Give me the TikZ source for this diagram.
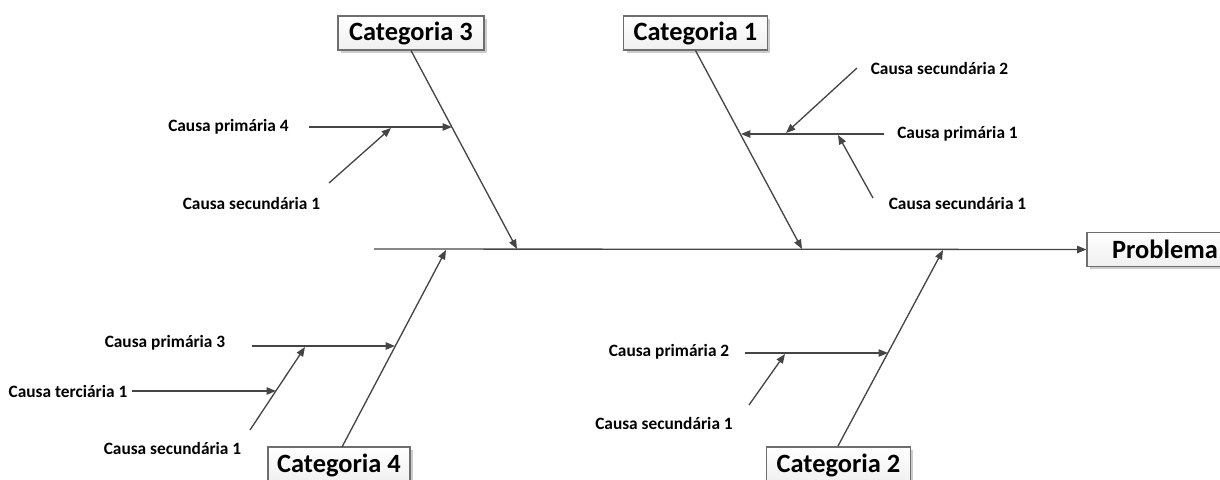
\documentclass[tikz,border=0pt]{standalone}
\usepackage{fontspec}
\setmainfont{Carlito}
\usetikzlibrary{arrows.meta,shadows}
\definecolor{linegray}{HTML}{454545}
\definecolor{boxgray}{HTML}{6E6E6E}
\begin{document}
\begin{tikzpicture}[x=0.75pt,y=-0.75pt,
  line/.style={draw=linegray, line width=1pt},
  arr/.style={line, -{Triangle[length=7pt,width=5.5pt]}},
  catbox/.style={draw=boxgray, line width=0.8pt, top color=white, bottom color=gray!12,
    drop shadow={shadow xshift=2pt, shadow yshift=-2pt, opacity=0.4},
    font=\bfseries\fontsize{19.8}{22}\selectfont, inner sep=0pt, minimum height=25.5pt},
  lab/.style={font=\bfseries\fontsize{13}{15}\selectfont, inner sep=0pt, text=black}]
\useasboundingbox (0,0) rectangle (1220,479);
\begin{scope}
\clip (0,0) rectangle (1220,479);
% boxes
\node[catbox, minimum width=109.5pt] (cat3) at (411,33) {Categoria 3};
\node[catbox, minimum width=107.5pt] (cat1) at (695.5,33) {Categoria 1};
\node[catbox, minimum width=106.5pt, minimum height=27pt] (cat4) at (339,465) {Categoria 4};
\node[catbox, minimum width=107.5pt, minimum height=27pt] (cat2) at (838.5,465) {Categoria 2};
\node[catbox, minimum width=117pt, minimum height=25pt] (prob) at (1165,249.5) {Problema};

% labels
\node[lab] (lp4) at (228.5,127) {Causa primária 4};
\node[lab] (ls31) at (251.5,203) {Causa secundária 1};
\node[lab] (ls12) at (939.5,68) {Causa secundária 2};
\node[lab] (lp1) at (957.5,134) {Causa primária 1};
\node[lab] (ls11) at (957.5,203) {Causa secundária 1};
\node[lab] (lp3) at (165,343) {Causa primária 3};
\node[lab] (lt1) at (68,391) {Causa terciária 1};
\node[lab] (ls41) at (172.5,448) {Causa secundária 1};
\node[lab] (lp2) at (669,352) {Causa primária 2};
\node[lab] (ls21) at (664,423) {Causa secundária 1};

% coordinates
\coordinate (s0) at (374,249);
\coordinate (b3) at (517,249);
\coordinate (b1) at (802,249);
\coordinate (b4) at (446,250);
\coordinate (b2) at (943,250);
\coordinate (c4top) at (342,447);
\coordinate (c2top) at (838,446);

\coordinate (p4s) at (309,127);
\coordinate (p4e) at (452,127);
\coordinate (s31s) at (329,183);
\coordinate (s31e) at (391,128);

\coordinate (p1s) at (884,134);
\coordinate (p1e) at (741,134);
\coordinate (s12s) at (857,68);
\coordinate (s12e) at (786,133);
\coordinate (s11s) at (873,198);
\coordinate (s11e) at (838,135);

\coordinate (p3s) at (252,346);
\coordinate (p3e) at (395,346);
\coordinate (s41s) at (250,430);
\coordinate (s41e) at (305,347);
\coordinate (t1s) at (132,391);
\coordinate (t1e) at (276,391);

\coordinate (p2s) at (745,353);
\coordinate (p2e) at (888,353);
\coordinate (s21s) at (749,405);
\coordinate (s21e) at (785,354);
\end{scope}

% spine and bones
\draw[arr] (s0) -- (prob.west);
\draw[arr] (cat3.south) -- (b3);
\draw[arr] (cat1.south) -- (b1);
\draw[arr] (c4top) -- (b4);
\draw[arr] (c2top) -- (b2);

% causes
\draw[arr] (p4s) -- (p4e);
\draw[arr] (s31s) -- (s31e);
\draw[arr] (p1s) -- (p1e);
\draw[arr] (s12s) -- (s12e);
\draw[arr] (s11s) -- (s11e);
\draw[arr] (p3s) -- (p3e);
\draw[arr] (s41s) -- (s41e);
\draw[arr] (t1s) -- (t1e);
\draw[arr] (p2s) -- (p2e);
\draw[arr] (s21s) -- (s21e);
\end{tikzpicture}
\end{document}
